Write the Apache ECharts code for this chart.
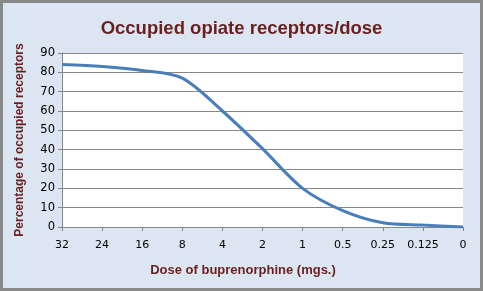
<!DOCTYPE html>
<html><head><meta charset="utf-8">
<script src="https://cdn.jsdelivr.net/npm/echarts@6/dist/echarts.min.js"></script>
<style>html,body{margin:0;padding:0;background:#dce6f2}#c{width:483px;height:291px}</style>
</head><body><div id="c"></div>
<script>
const categories = ['32','24','16','8','4','2','1','0.5','0.25','0.125','0'];
const occupied = [84, 83, 81, 77, 60, 40.5, 20, 8.5, 2.2, 1, 0];
const yTicks = [0, 90, 10];
const titleText = 'Occupied opiate receptors/dose';
const xName = 'Dose of buprenorphine (mgs.)';
const yName = 'Percentage of occupied receptors';

const chart = echarts.init(document.getElementById('c'), null, {renderer:'canvas'});
const red = '#6a1f1f';
chart.setOption({
  backgroundColor: '#dce6f2',
  animation: false,
  title: {text: titleText, left: 'center', top: 14,
    textStyle: {fontFamily: 'Liberation Sans', fontWeight: 'bold', fontSize: 18.5, color: red}},
  grid: {left: 62, right: 20, top: 53, bottom: 64, show: true, backgroundColor: '#ffffff', borderWidth: 0},
  xAxis: {type: 'category', data: categories, boundaryGap: false,
    axisLine: {lineStyle: {color: '#868686', width: 1}},
    axisTick: {show: true, length: 4, interval: 0, alignWithLabel: true, lineStyle: {color: '#868686'}},
    axisLabel: {interval: 0, fontFamily: 'DejaVu Sans', fontSize: 11, color: '#000', margin: 13}},
  yAxis: {type: 'value', min: yTicks[0], max: yTicks[1], interval: yTicks[2],
    axisLine: {show: true, lineStyle: {color: '#868686'}},
    axisTick: {show: true, length: 4, lineStyle: {color: '#868686'}},
    splitLine: {lineStyle: {color: '#868686', width: 1}},
    axisLabel: {fontFamily: 'DejaVu Sans', fontSize: 11.5, color: '#000', margin: 7}},
  graphic: [
    {type: 'text', x: 243, y: 270, style: {text: xName, fill: red, font: 'bold 13px "Liberation Sans"', textAlign: 'center', textVerticalAlign: 'middle'}},
    {type: 'text', x: 20, y: 140, rotation: Math.PI/2, style: {text: yName, fill: red, font: 'bold 12px "Liberation Sans"', textAlign: 'center', textVerticalAlign: 'middle'}},
    {type: 'rect', shape: {x: 1.5, y: 1.5, width: 480, height: 288}, style: {fill: 'none', stroke: '#898989', lineWidth: 3}, silent: true}
  ],
  series: [{type: 'line', data: occupied, smooth: 0.3, showSymbol: false,
    lineStyle: {color: '#4a7ebb', width: 3}}]
});
</script></body></html>
